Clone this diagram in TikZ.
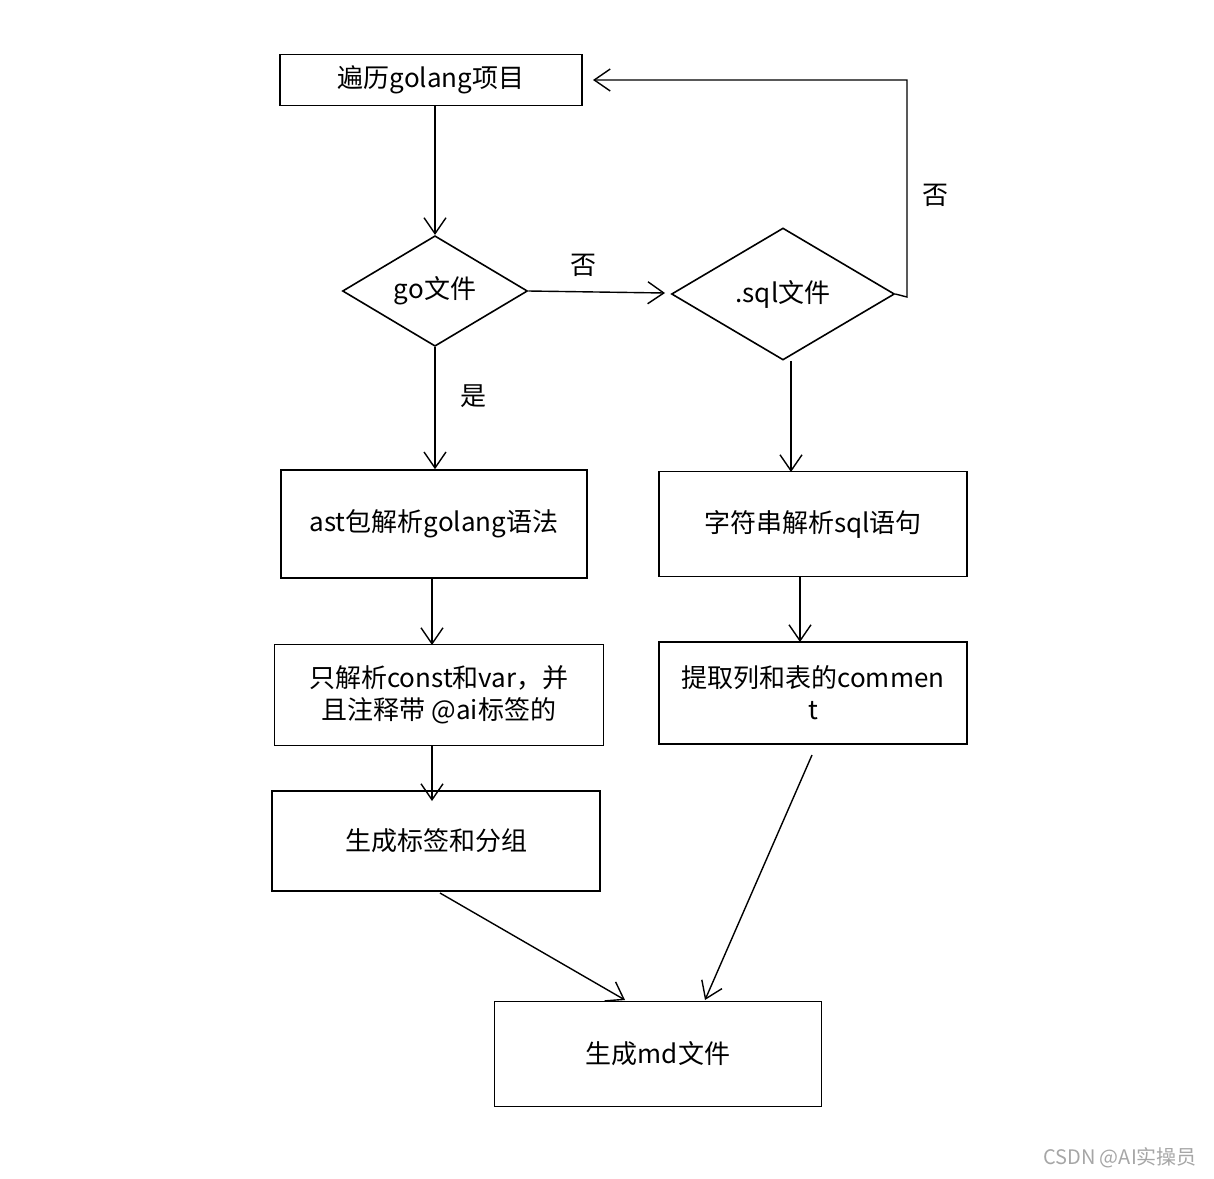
\documentclass[tikz,border=0pt]{standalone}
\usepackage{fontspec}
\setmainfont{Noto Sans CJK SC}
\usetikzlibrary{arrows.meta,shapes.geometric}
\begin{document}
\begin{tikzpicture}[x=1pt,y=-1pt,
 box/.style={draw,line width=1.6pt,minimum width=#1,inner sep=0pt,font=\fontsize{26}{32}\selectfont,align=center},
 dia/.style={draw,diamond,line width=1.6pt,inner sep=0pt,font=\fontsize{26}{32}\selectfont},
 arr/.style={-{Straight Barb[length=16pt,width=22pt]},line width=1.4pt},
 lab/.style={font=\fontsize{26}{32}\selectfont}]
\useasboundingbox (0,0) rectangle (1214,1178);
\node[box=302pt,minimum height=51pt] (b1) at (431,80) {遍历golang项目};
\node[dia,minimum width=185pt,minimum height=105pt] (go) at (435,291) {go文件};
\node[dia,minimum width=223pt,minimum height=132pt] (sq) at (783,294) {.sql文件};
\node[box=306pt,minimum height=108pt] (ast) at (434,524) {ast包解析golang语法};
\node[box=308pt,minimum height=105pt] (sp) at (813,524) {字符串解析sql语句};
\node[box=329pt,minimum height=101pt] (only) at (439,695) {只解析const和var，并\\且注释带 @ai标签的};
\node[box=308pt,minimum height=102pt] (ext) at (813,693) {提取列和表的commen\\t};
\node[box=328pt,minimum height=100pt] (tag) at (436,841) {生成标签和分组};
\node[box=327pt,minimum height=105pt] (md) at (658,1054) {生成md文件};
\draw[arr] (b1.south -| go.north) -- (go.north);
\draw[arr] (go.east) -- (665,293);
\node[lab] (n1) at (583,265) {否};
\draw[arr] (go.south) -- (ast.north -| go.south);
\node[lab] (n2) at (473,396) {是};
\draw[arr] (sq.south -| 791,0) -- (791,472);
\coordinate (c1) at (907,80);
\draw[arr] (sq.east) -- (907,297) -- (c1) -- (b1.east -| 593,0);
\node[lab] (n3) at (935,195) {否};
\draw[arr] (432,578) -- (432,645);
\draw[arr] (800,576) -- (800,642);
\draw[arr] (432,746) -- (432,801);
\draw[arr] (440,893) -- (625,1000);
\draw[arr] (812,755) -- (705,1000);
\node[text=gray!70,font=\fontsize{20}{24}\selectfont] (wm) at (1120,1158) {CSDN @AI实操员};
\end{tikzpicture}
\end{document}
